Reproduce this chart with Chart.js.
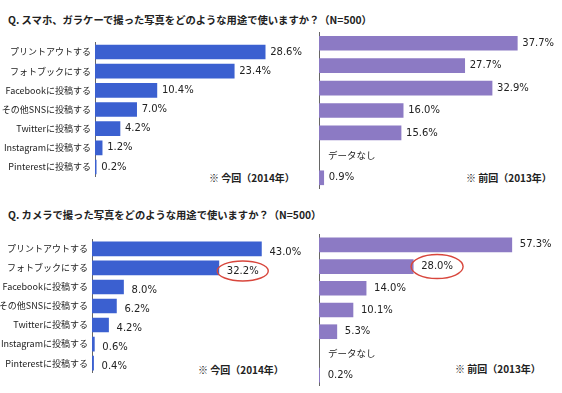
<!DOCTYPE html>
<html><head><meta charset="utf-8">
<script src="https://cdn.jsdelivr.net/npm/chart.js@4/dist/chart.umd.min.js"></script>
<style>
html,body{margin:0;padding:0;background:#fff;}
#wrap{position:relative;width:562px;height:393px;overflow:hidden;background:#fff;}
canvas{position:absolute;}
.t{position:absolute;font-family:"Noto Sans CJK JP",sans-serif;font-weight:bold;font-size:10.3px;line-height:13px;color:#222;white-space:nowrap;}
.n{font-size:10px;}
</style></head>
<body><div id="wrap">
<div class="t" id="title1" style="left:8px;top:13px;"></div>
<div class="t" id="title2" style="left:8px;top:208px;"></div>
<div class="t n" id="n1" style="left:209px;top:171px;"></div>
<div class="t n" id="n2" style="left:466px;top:171px;"></div>
<div class="t n" id="n3" style="left:198px;top:363px;"></div>
<div class="t n" id="n4" style="left:455px;top:362px;"></div>
<canvas id="c1"></canvas><canvas id="c2"></canvas><canvas id="c3"></canvas><canvas id="c4"></canvas>
</div>
<script>
// ---- data ----
const titleSmartphone = 'Q. スマホ、ガラケーで撮った写真をどのような用途で使いますか？（N=500）';
const titleCamera = 'Q. カメラで撮った写真をどのような用途で使いますか？（N=500）';
const noteCurrent = '※ 今回（2014年）';
const notePrevious = '※ 前回（2013年）';
const noDataText = 'データなし';
const categories = ['プリントアウトする','フォトブックにする','Facebookに投稿する','その他SNSに投稿する','Twitterに投稿する','Instagramに投稿する','Pinterestに投稿する'];
const smartphone2014 = [28.6, 23.4, 10.4, 7.0, 4.2, 1.2, 0.2];
const smartphone2013 = [37.7, 27.7, 32.9, 16.0, 15.6, null, 0.9];
const camera2014 = [43.0, 32.2, 8.0, 6.2, 4.2, 0.6, 0.4];
const camera2013 = [57.3, 28.0, 14.0, 10.1, 5.3, null, 0.2];

document.getElementById('title1').textContent = titleSmartphone;
document.getElementById('title2').textContent = titleCamera;
document.getElementById('n1').textContent = noteCurrent;
document.getElementById('n2').textContent = notePrevious;
document.getElementById('n3').textContent = noteCurrent;
document.getElementById('n4').textContent = notePrevious;

const BLUE = '#3b60d0';
const PURPLE = '#8c7ac4';

const labelPlugin = {
  id: 'valLabels',
  afterDatasetsDraw(chart) {
    const cfg = chart.options.plugins.valLabels;
    const ctx = chart.ctx;
    const meta = chart.getDatasetMeta(0);
    const data = chart.data.datasets[0].data;
    ctx.save();
    ctx.textBaseline = 'middle';
    ctx.textAlign = 'left';
    meta.data.forEach((bar, i) => {
      const v = data[i];
      const y = chart.scales.y.getPixelForValue(i);
      if (v === null) {
        ctx.font = '9.5px "Noto Sans CJK JP", sans-serif';
        ctx.fillStyle = '#222';
        ctx.fillText(noDataText, chart.chartArea.left + 9, y);
        return;
      }
      const x = chart.scales.x.getPixelForValue(v);
      const txt = v.toFixed(1) + '%';
      ctx.font = '10px "DejaVu Sans", sans-serif';
      ctx.fillStyle = '#222';
      const tx = x + cfg.gap;
      const ty = y + cfg.dy;
      ctx.fillText(txt, tx, ty);
      if (cfg.highlight === i) {
        const w = ctx.measureText(txt).width;
        ctx.beginPath();
        ctx.ellipse(tx + w / 2, ty, cfg.rx, cfg.ry, 0, 0, Math.PI * 2);
        ctx.strokeStyle = '#d8463c';
        ctx.lineWidth = 1.4;
        ctx.stroke();
      }
    });
    ctx.restore();
  }
};

function makeChart(id, pos, values, color, opts) {
  const cv = document.getElementById(id);
  cv.width = pos.w; cv.height = pos.h;
  cv.style.left = pos.x + 'px'; cv.style.top = pos.y + 'px';
  cv.style.width = pos.w + 'px'; cv.style.height = pos.h + 'px';
  const xmax = (pos.w - pos.yw) / opts.pxPer;
  return new Chart(cv, {
    type: 'bar',
    data: { labels: categories, datasets: [{ data: values, backgroundColor: color, barThickness: 14, borderWidth: 0 }] },
    options: {
      indexAxis: 'y', responsive: false, animation: false, devicePixelRatio: 1,
      layout: { padding: 0 },
      plugins: { legend: { display: false }, tooltip: { enabled: false },
        valLabels: { gap: opts.gap, dy: opts.dy || 0, highlight: opts.highlight, rx: opts.rx, ry: opts.ry } },
      scales: {
        x: { display: false, min: 0, max: xmax },
        y: {
          display: true,
          grid: { display: false, drawTicks: false },
          border: { display: true, color: '#666', width: 1 },
          ticks: { display: opts.showTicks, padding: 4, autoSkip: false, color: '#222',
                   font: { family: '"Noto Sans CJK JP", sans-serif', size: 9 } },
          afterFit(s) { s.width = pos.yw; }
        }
      }
    },
    plugins: [labelPlugin]
  });
}

makeChart('c1', { x: 0, y: 33, w: 310, h: 153, yw: 95 }, smartphone2014, BLUE, { pxPer: 5.95, gap: 5, showTicks: true });
makeChart('c2', { x: 309, y: 32, w: 253, h: 157, yw: 10 }, smartphone2013, PURPLE, { pxPer: 5.26, gap: 5, showTicks: false });
makeChart('c3', { x: 0, y: 230, w: 310, h: 152, yw: 92 }, camera2014, BLUE, { pxPer: 3.94, gap: 8, dy: 3, showTicks: true, highlight: 1, rx: 25.5, ry: 10 });
makeChart('c4', { x: 309, y: 234, w: 253, h: 152, yw: 10 }, camera2013, PURPLE, { pxPer: 3.365, gap: 8, showTicks: false, highlight: 1, rx: 26, ry: 12 });
</script>
</body></html>
